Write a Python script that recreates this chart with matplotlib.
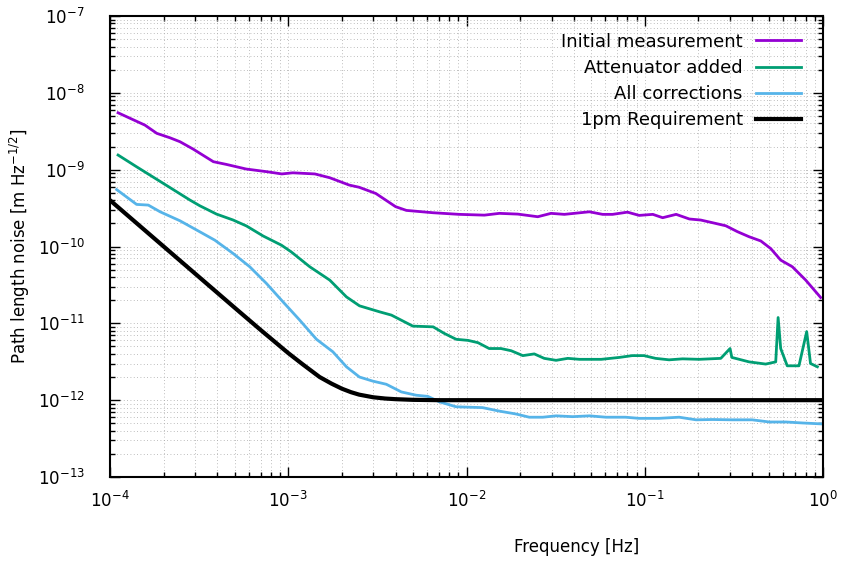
#Path length noise spectra plot, log-log, gnuplot look
import matplotlib
matplotlib.use("Agg")
import matplotlib.pyplot as plt
from matplotlib.ticker import LogLocator, NullFormatter

#Initial measurement (purple)
init_f = [1.11e-4, 1.57e-4, 1.83e-4, 2.17e-4, 2.47e-4, 2.93e-4, 3.8e-4, 4.5e-4, 5.8e-4, 7.6e-4,
          9.2e-4, 1.06e-3, 1.41e-3, 1.71e-3, 2.2e-3, 2.5e-3, 3.1e-3, 4.0e-3, 4.6e-3, 6.5e-3,
          9.1e-3, 1.26e-2, 1.53e-2, 1.94e-2, 2.51e-2, 2.98e-2, 3.54e-2, 4.89e-2, 5.8e-2, 6.6e-2,
          8.0e-2, 9.3e-2, 0.111, 0.126, 0.150, 0.178, 0.206, 0.240, 0.285, 0.331,
          0.385, 0.448, 0.509, 0.579, 0.673, 0.80, 0.97]
init_n = [5.5e-9, 3.8e-9, 2.97e-9, 2.6e-9, 2.31e-9, 1.85e-9, 1.27e-9, 1.17e-9, 1.02e-9, 9.4e-10,
          8.8e-10, 9.1e-10, 8.8e-10, 7.85e-10, 6.3e-10, 5.9e-10, 4.9e-10, 3.3e-10, 2.95e-10, 2.75e-10,
          2.62e-10, 2.56e-10, 2.70e-10, 2.64e-10, 2.44e-10, 2.70e-10, 2.62e-10, 2.83e-10, 2.62e-10, 2.62e-10,
          2.8e-10, 2.54e-10, 2.62e-10, 2.37e-10, 2.62e-10, 2.28e-10, 2.21e-10, 2.04e-10, 1.86e-10, 1.56e-10,
          1.34e-10, 1.18e-10, 9.4e-11, 6.65e-11, 5.45e-11, 3.65e-11, 2.17e-11]

#Attenuator added (green)
att_f = [1.11e-4, 1.41e-4, 1.99e-4, 2.81e-4, 3.19e-4, 3.96e-4, 4.91e-4, 5.83e-4, 7.23e-4, 9.16e-4,
         1.04e-3, 1.32e-3, 1.71e-3, 2.12e-3, 2.51e-3, 3.26e-3, 3.79e-3, 5.0e-3, 6.5e-3, 7.5e-3,
         8.75e-3, 1.02e-2, 1.16e-2, 1.34e-2, 1.56e-2, 1.78e-2, 2.07e-2, 2.4e-2, 2.73e-2, 3.18e-2,
         3.7e-2, 4.3e-2, 5.7e-2, 7.2e-2, 8.5e-2, 9.9e-2, 0.115, 0.137, 0.163, 0.202,
         0.267, 0.301, 0.308, 0.385, 0.477, 0.543, 0.56, 0.579, 0.63, 0.733,
         0.81, 0.851, 0.93]
att_n = [1.55e-9, 1.09e-9, 6.63e-10, 4.02e-10, 3.39e-10, 2.64e-10, 2.21e-10, 1.85e-10, 1.37e-10, 1.04e-10,
         8.5e-11, 5.45e-11, 3.65e-11, 2.21e-11, 1.69e-11, 1.41e-11, 1.28e-11, 9.2e-12, 9.0e-12, 7.4e-12,
         6.2e-12, 6.0e-12, 5.6e-12, 4.7e-12, 4.7e-12, 4.4e-12, 3.8e-12, 4.0e-12, 3.5e-12, 3.3e-12,
         3.5e-12, 3.4e-12, 3.4e-12, 3.6e-12, 3.8e-12, 3.8e-12, 3.5e-12, 3.35e-12, 3.45e-12, 3.4e-12,
         3.5e-12, 4.7e-12, 3.6e-12, 3.15e-12, 2.95e-12, 3.15e-12, 1.19e-11, 4.7e-12, 2.8e-12, 2.8e-12,
         7.8e-12, 3.0e-12, 2.72e-12]

#All corrections (light blue)
corr_f = [1.09e-4, 1.41e-4, 1.64e-4, 1.91e-4, 2.47e-4, 3.06e-4, 3.87e-4, 4.91e-4, 6.08e-4, 7.55e-4,
          9.35e-4, 1.16e-3, 1.44e-3, 1.78e-3, 2.12e-3, 2.51e-3, 2.98e-3, 3.55e-3, 4.31e-3, 5.22e-3,
          6.07e-3, 7.06e-3, 8.75e-3, 1.23e-2, 1.53e-2, 1.9e-2, 2.25e-2, 2.68e-2, 3.18e-2, 3.94e-2,
          4.89e-2, 6.06e-2, 7.8e-2, 9.3e-2, 0.12, 0.156, 0.194, 0.24, 0.31, 0.40,
          0.50, 0.62, 0.766, 1.0]
corr_n = [5.5e-10, 3.53e-10, 3.46e-10, 2.83e-10, 2.16e-10, 1.64e-10, 1.21e-10, 8.1e-11, 5.45e-11, 3.3e-11,
          1.9e-11, 1.1e-11, 6.2e-12, 4.26e-12, 2.72e-12, 2.0e-12, 1.77e-12, 1.61e-12, 1.28e-12, 1.16e-12,
          1.12e-12, 9.5e-13, 8.2e-13, 8.0e-13, 7.2e-13, 6.6e-13, 6.0e-13, 6.0e-13, 6.25e-13, 6.1e-13,
          6.25e-13, 6.0e-13, 6.0e-13, 5.8e-13, 5.8e-13, 6.0e-13, 5.55e-13, 5.6e-13, 5.55e-13, 5.55e-13,
          5.2e-13, 5.2e-13, 5.05e-13, 4.9e-13]

#1pm requirement (black)
req_f = [1e-4, 2e-4, 5e-4, 7e-4, 1e-3, 1.2e-3, 1.5e-3, 1.75e-3, 2e-3, 2.25e-3,
         2.5e-3, 3e-3, 3.5e-3, 4e-3, 5e-3, 7e-3, 1e-2, 1e-1, 1.0]
req_n = [4.0e-10, 1.0e-10, 1.6e-11, 8.2e-12, 4.1e-12, 2.95e-12, 2.0e-12, 1.64e-12, 1.41e-12, 1.27e-12,
         1.18e-12, 1.09e-12, 1.05e-12, 1.03e-12, 1.01e-12, 1.0e-12, 1e-12, 1e-12, 1e-12]

plt.rcParams['font.family'] = ['DejaVu Sans']
plt.rcParams['mathtext.default'] = 'regular'
plt.rcParams['font.size'] = 12

fig = plt.figure(figsize=(8.44, 5.61), dpi=100)
ax = fig.add_axes([110/844, 1-477/561, 713/844, 461/561])

ax.plot(init_f, init_n, color='#9400D3', lw=2.0, label='Initial measurement')
ax.plot(att_f, att_n, color='#009E73', lw=2.0, label='Attenuator added')
ax.plot(corr_f, corr_n, color='#56B4E9', lw=2.0, label='All corrections')
ax.plot(req_f, req_n, color='black', lw=3.0, label='1pm Requirement')

ax.set_xscale('log')
ax.set_yscale('log')
ax.set_xlim(1e-4, 1)
ax.set_ylim(1e-13, 1e-7)

#ticks on every side, pointing in, like gnuplot
ax.xaxis.set_major_locator(LogLocator(base=10, numticks=10))
ax.xaxis.set_minor_locator(LogLocator(base=10, subs=range(2, 10), numticks=20))
ax.yaxis.set_major_locator(LogLocator(base=10, numticks=10))
ax.yaxis.set_minor_locator(LogLocator(base=10, subs=range(2, 10), numticks=20))
ax.xaxis.set_minor_formatter(NullFormatter())
ax.yaxis.set_minor_formatter(NullFormatter())
ax.tick_params(which='both', direction='in', top=True, right=True, width=1.0)
ax.tick_params(which='major', length=7)
ax.tick_params(which='minor', length=3.5)
ax.tick_params(axis='x', which='major', pad=10, labelsize=12)
ax.tick_params(axis='y', which='major', pad=18, labelsize=12)
for s in ax.spines.values():
    s.set_linewidth(1.5)

#dotted grid on major and minor ticks
ax.grid(True, which='both', linestyle=(0, (1, 3)), color='#a8a8a8', lw=0.6)
ax.set_axisbelow(True)

ax.set_xlabel('Frequency [Hz]', fontsize=12)
ax.set_ylabel('Path length noise [m Hz$^{-1/2}$]', fontsize=12)
ax.xaxis.set_label_coords(467/713, -(538-477)/461)
ax.yaxis.set_label_coords(-(110-32)/713, 0.5)

#key top right, text first then line sample
ax.legend(loc='upper right', markerfirst=False, frameon=False, fontsize=13,
          handlelength=2.5, handletextpad=0.75, labelspacing=0.45,
          borderaxespad=0.4, bbox_to_anchor=(0.99, 0.995))

fig.savefig('out.png', dpi=100)
